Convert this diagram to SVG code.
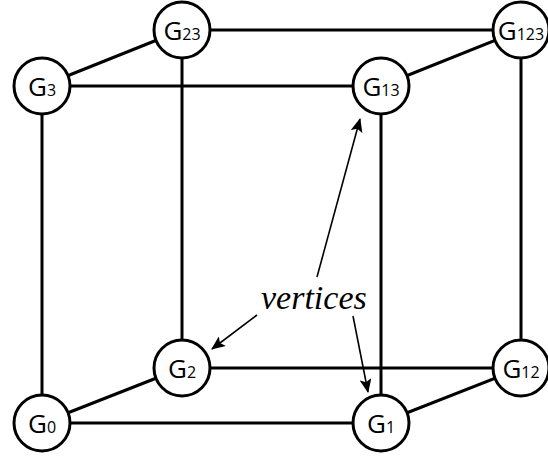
<svg xmlns="http://www.w3.org/2000/svg" width="548" height="458" viewBox="0 0 548 458">
  <style>
    .edge { stroke: #000; stroke-width: 3; fill: none; }
    .ptr { stroke: #000; stroke-width: 1.6; fill: none; marker-end: url(#head); }
    .node circle { fill: #fff; stroke: #000; stroke-width: 3; }
    .node text { font-family: "Open Sans", "Noto Sans", sans-serif; font-size: 26px; fill: #000; text-anchor: middle; }
    .node tspan { font-size: 16px; }
    .label { font-family: "Liberation Serif", serif; font-style: italic; font-size: 34px; fill: #000; }
  </style>
  <defs>
    <marker id="head" viewBox="0 0 14 12" refX="13" refY="6" markerWidth="14" markerHeight="12" markerUnits="userSpaceOnUse" orient="auto">
      <path d="M0,0 L14,6 L0,12 L3,6 Z" fill="#000"/>
    </marker>
  </defs>

  <rect width="548" height="458" fill="#fff"/>

  <!-- cube edges -->
  <g id="edges">
    <line class="edge" x1="42" y1="86" x2="381" y2="86"/>
    <line class="edge" x1="42" y1="423" x2="381" y2="423"/>
    <line class="edge" x1="42" y1="86" x2="42" y2="423"/>
    <line class="edge" x1="381" y1="86" x2="381" y2="423"/>
    <line class="edge" x1="182" y1="30" x2="521" y2="30"/>
    <line class="edge" x1="182" y1="368" x2="521" y2="368"/>
    <line class="edge" x1="182" y1="30" x2="182" y2="368"/>
    <line class="edge" x1="521" y1="30" x2="521" y2="368"/>
    <line class="edge" x1="42" y1="86" x2="182" y2="30"/>
    <line class="edge" x1="381" y1="86" x2="521" y2="30"/>
    <line class="edge" x1="42" y1="423" x2="182" y2="368"/>
    <line class="edge" x1="381" y1="423" x2="521" y2="368"/>
  </g>

  <!-- vertices -->
  <g id="G23" class="node"><circle cx="182" cy="30" r="28"/><text x="182" y="40">G<tspan>23</tspan></text></g>
  <g id="G123" class="node"><circle cx="521" cy="30" r="28"/><text x="521" y="40">G<tspan>123</tspan></text></g>
  <g id="G3" class="node"><circle cx="42" cy="86" r="28"/><text x="42" y="96">G<tspan>3</tspan></text></g>
  <g id="G13" class="node"><circle cx="381" cy="86" r="28"/><text x="381" y="96">G<tspan>13</tspan></text></g>
  <g id="G2" class="node"><circle cx="182" cy="368" r="28"/><text x="182" y="378">G<tspan>2</tspan></text></g>
  <g id="G12" class="node"><circle cx="521" cy="368" r="28"/><text x="521" y="378">G<tspan>12</tspan></text></g>
  <g id="G0" class="node"><circle cx="42" cy="423" r="28"/><text x="42" y="433">G<tspan>0</tspan></text></g>
  <g id="G1" class="node"><circle cx="381" cy="423" r="28"/><text x="381" y="433">G<tspan>1</tspan></text></g>

  <!-- annotation -->
  <g id="annotation">
    <text class="label" x="261" y="309">vertices</text>
    <line class="ptr" x1="317" y1="277" x2="360" y2="119"/>
    <line class="ptr" x1="257" y1="315" x2="212" y2="349"/>
    <line class="ptr" x1="353" y1="316" x2="368" y2="392"/>
  </g>
</svg>
